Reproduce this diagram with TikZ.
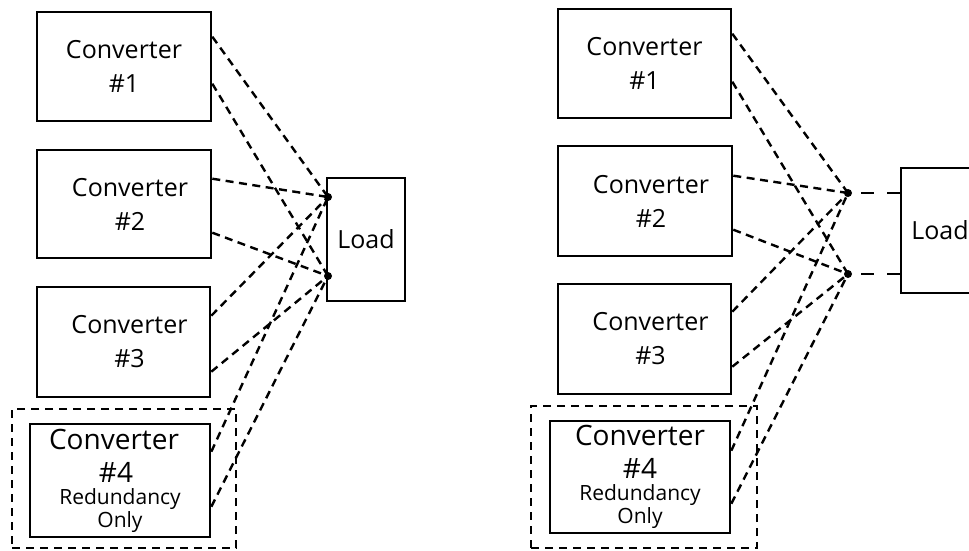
\documentclass[tikz,border=0pt]{standalone}
\usepackage{fontspec}
\setmainfont{Open Sans}
\usetikzlibrary{calc}
\begin{document}
\begin{tikzpicture}[x=1pt,y=-1pt,
 conv/.style={draw,line width=2.6pt,align=center,inner sep=0pt,font=\fontsize{25}{34}\selectfont},
 convred/.style={draw,line width=2.6pt,align=center,inner sep=0pt,font=\fontsize{28}{33}\selectfont},
 redbox/.style={draw,line width=2.4pt,dash pattern=on 8pt off 6pt,inner sep=0pt},
 wire/.style={line width=2.4pt,dash pattern=on 8pt off 5.5pt},
 feed/.style={line width=2.4pt,dash pattern=on 13pt off 13pt},
 dotnode/.style={circle,fill,inner sep=0pt,minimum size=8pt}]
\useasboundingbox (0,0) rectangle (969,550);
% ---------- left ----------
\node[conv,minimum width=174pt,minimum height=109pt] (L1) at (124,66.5) {Converter\\\#1};
\node[conv,minimum width=174pt,minimum height=108pt] (L2) at (124,204) {\hspace*{12pt}Converter\\\hspace*{12pt}\#2};
\node[conv,minimum width=173pt,minimum height=110pt] (L3) at (123.5,342) {\hspace*{12pt}Converter\\\hspace*{12pt}\#3};
\node[convred,minimum width=180pt,minimum height=113pt] (L4) at (120,480.5) {\hspace*{-12pt}Converter\\\hspace*{-8pt}\#4\\[-11pt]{\fontsize{21}{23}\selectfont Redundancy}\\[-10pt]{\fontsize{21}{23}\selectfont Only}};
\node[redbox,minimum width=224pt,minimum height=139pt] (LR) at (124,478.5) {};
\node[conv,minimum width=78pt,minimum height=123pt] (LL) at (366,239.5) {Load};
\node[dotnode] (LU) at (328,197) {};
\node[dotnode] (LD) at (328,276) {};
\draw[wire] ([yshift=-26pt]L1.north east) -- (LU.center);
\draw[wire] ([yshift=-73pt]L1.north east) -- (LD.center);
\draw[wire] ([yshift=-30pt]L2.north east) -- (LU.center);
\draw[wire] ([yshift=-84pt]L2.north east) -- (LD.center);
\draw[wire] ([yshift=-30pt]L3.north east) -- (LU.center);
\draw[wire] ([yshift=-86pt]L3.north east) -- (LD.center);
\draw[wire] ([yshift=-29pt]L4.north east) -- (LU.center);
\draw[wire] ([yshift=-84pt]L4.north east) -- (LD.center);
% ---------- right ----------
\node[conv,minimum width=173pt,minimum height=109pt] (R1) at (644.5,63.5) {Converter\\\#1};
\node[conv,minimum width=174pt,minimum height=110pt] (R2) at (645,201) {\hspace*{12pt}Converter\\\hspace*{12pt}\#2};
\node[conv,minimum width=173pt,minimum height=110pt] (R3) at (644.5,339) {\hspace*{12pt}Converter\\\hspace*{12pt}\#3};
\node[convred,minimum width=180pt,minimum height=112pt] (R4) at (640,477) {Converter\\\#4\\[-11pt]{\fontsize{21}{23}\selectfont Redundancy}\\[-10pt]{\fontsize{21}{23}\selectfont Only}};
\node[redbox,minimum width=226pt,minimum height=142pt] (RR) at (644,477) {};
\node[conv,minimum width=78pt,minimum height=125pt] (RL) at (940,230.5) {Load};
\node[dotnode] (RU) at (848,193) {};
\node[dotnode] (RD) at (848,274) {};
\draw[wire] ([yshift=-26pt]R1.north east) -- (RU.center);
\draw[wire] ([yshift=-74pt]R1.north east) -- (RD.center);
\draw[wire] ([yshift=-31pt]R2.north east) -- (RU.center);
\draw[wire] ([yshift=-85pt]R2.north east) -- (RD.center);
\draw[wire] ([yshift=-29pt]R3.north east) -- (RU.center);
\draw[wire] ([yshift=-84pt]R3.north east) -- (RD.center);
\draw[wire] ([yshift=-31pt]R4.north east) -- (RU.center);
\draw[wire] ([yshift=-84pt]R4.north east) -- (RD.center);
\draw[feed] (RU.center -| RL.west) -- (RU.center);
\draw[feed] (RD.center -| RL.west) -- (RD.center);
\end{tikzpicture}
\end{document}
